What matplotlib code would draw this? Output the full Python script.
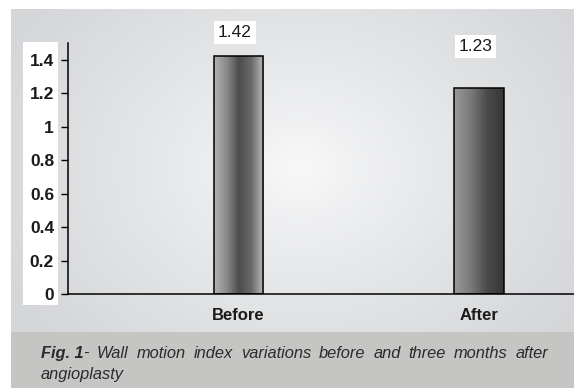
import numpy as np
import matplotlib
matplotlib.use("Agg")
import matplotlib.pyplot as plt
from matplotlib.patches import Rectangle
from matplotlib.colors import LinearSegmentedColormap

# Wall motion index, before and three months after angioplasty
categories = ["Before", "After"]
values = [1.42, 1.23]
value_labels = ["1.42", "1.23"]
yticks = [0, 0.2, 0.4, 0.6, 0.8, 1, 1.2, 1.4]
ytick_labels = ["0", "0.2", "0.4", "0.6", "0.8", "1", "1.2", "1.4"]
caption_bold = "Fig. 1"
caption_line1 = "- Wall motion index variations before and three months after"
caption_line2 = "angioplasty"

W, H = 574, 388
DPI = 100
fig = plt.figure(figsize=(W / DPI, H / DPI), dpi=DPI)
fig.patch.set_facecolor("white")

# ---- background layer in pixel coordinates ----
bg = fig.add_axes([0, 0, 1, 1], zorder=0)
bg.set_xlim(0, W)
bg.set_ylim(H, 0)
bg.axis("off")

# radial light spot on the gray panel
px0, px1, py0, py1 = 11, W, 9, 332
xs = np.linspace(px0, px1, 400)
ys = np.linspace(py0, py1, 240)
XX, YY = np.meshgrid(xs, ys)
cx, cy = 300, 168
r = np.sqrt(((XX - cx) / 330.0) ** 2 + ((YY - cy) / 260.0) ** 2)
t = np.clip(r, 0, 1) ** 0.8
c_in = np.array([0.975, 0.978, 0.980])
c_out = np.array([0.835, 0.840, 0.850])
img = c_in[None, None, :] * (1 - t[..., None]) + c_out[None, None, :] * t[..., None]
bg.imshow(img, extent=(px0, px1, py1, py0), aspect="auto", interpolation="bilinear", zorder=0)

# caption band
bg.add_patch(Rectangle((px0, py1), W - px0, H - py1, facecolor="#c5c5c3", edgecolor="none", zorder=1))
# white strip behind the y tick labels
bg.add_patch(Rectangle((23, 42), 35, 263, facecolor="white", edgecolor="none", zorder=1))

# caption text, first line justified word by word
cap_kw = dict(fontsize=11.8, family="Liberation Sans", style="italic", color="#2b2b2b", va="baseline")
fig.canvas.draw()
renderer = fig.canvas.get_renderer()
words = caption_line1.split(" ")
tb = bg.text(41, 358, caption_bold, fontweight="bold", **cap_kw)
w_bold = tb.get_window_extent(renderer).width
word_artists = []
widths = []
for w in words:
    a = bg.text(0, 358, w, **cap_kw)
    word_artists.append(a)
    widths.append(a.get_window_extent(renderer).width)
left = 41 + w_bold
right = 548
gap = (right - left - sum(widths)) / (len(words) - 1)
x = left
for a, wd in zip(word_artists, widths):
    a.set_x(x)
    x += wd + gap
bg.text(41, 379, caption_line2, **cap_kw)

# ---- chart axes ----
ax = fig.add_axes([68 / W, (H - 294) / H, (W - 68) / W, (294 - 43) / H], zorder=2)
ax.patch.set_alpha(0)

xpos = np.arange(len(categories))
bar_w = 0.205

profiles = [
    LinearSegmentedColormap.from_list("cyl", ["#b4b4b4", "#8a8a8a", "#4c4c4c", "#6a6a6a", "#bcbcbc"]),
    LinearSegmentedColormap.from_list("ramp", ["#9a9a9a", "#7a7a7a", "#4a4a4a", "#363636"]),
]
grad = np.linspace(0, 1, 256)[None, :]
for xp, v, cmap in zip(xpos, values, profiles):
    ax.imshow(grad, cmap=cmap, extent=(xp - bar_w / 2, xp + bar_w / 2, 0, v),
              aspect="auto", interpolation="bilinear", zorder=2)
bars = ax.bar(xpos, values, width=bar_w, facecolor="none", edgecolor="black", linewidth=1.1, zorder=3)

label_y = [1.563, 1.479]
for xp, ly, lab in zip(xpos, label_y, value_labels):
    ax.text(xp - 0.015, ly, lab, ha="center", va="center", fontsize=12.5, family="Liberation Sans",
            fontweight="medium", color="#1a1a1a", clip_on=False,
            bbox=dict(boxstyle="square,pad=0.22", facecolor="white", edgecolor="none"))

ax.set_xlim(-0.709, 1.395)
ax.set_ylim(0, 1.5)
ax.set_yticks(yticks)
ax.set_yticklabels(ytick_labels, fontsize=12.5, family="Liberation Sans", fontweight="bold", color="#1a1a1a")
ax.set_xticks(xpos)
ax.set_xticklabels(categories, fontsize=12, family="Liberation Sans", fontweight="bold", color="#1a1a1a")
ax.tick_params(axis="y", length=5, width=1, pad=5, direction="out")
ax.tick_params(axis="x", length=0, pad=10)
for s in ["top", "right"]:
    ax.spines[s].set_visible(False)
ax.spines["left"].set_linewidth(1.1)
ax.spines["bottom"].set_linewidth(1.1)

fig.savefig("out.png", dpi=DPI)
